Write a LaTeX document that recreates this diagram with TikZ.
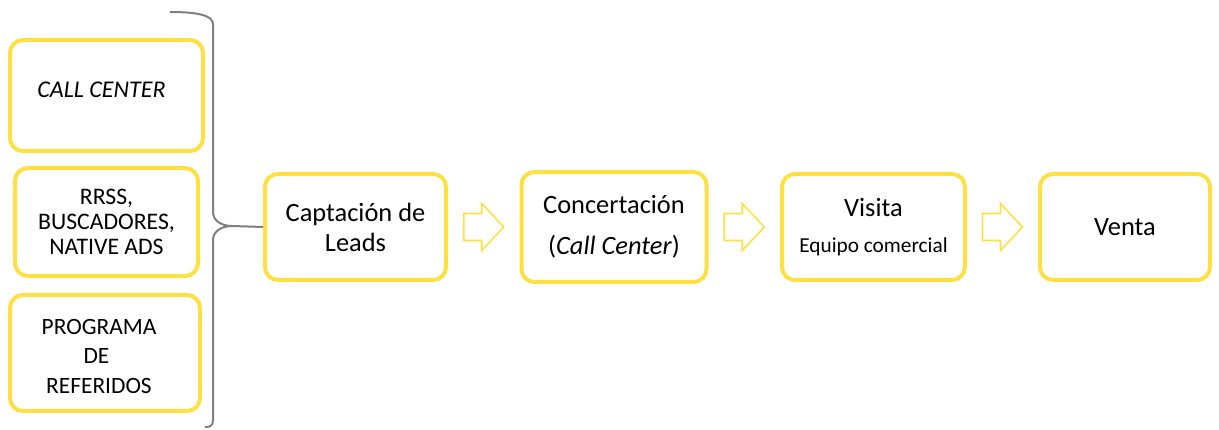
\documentclass[tikz,border=0pt]{standalone}
\usepackage{fontspec}
\setmainfont{Carlito}
\usetikzlibrary{calc}
\definecolor{boxyellow}{HTML}{FFE043}
\definecolor{bracegray}{HTML}{808080}
\tikzset{
  ybox/.style={draw=boxyellow, line width=4pt, rounded corners=13pt, inner sep=0pt, align=center, fill=white},
  bigtxt/.style={font=\fontsize{26.4}{30}\selectfont},
  flowarrow/.style={draw=boxyellow, line width=1.6pt, line join=miter},
}
\begin{document}
\begin{tikzpicture}[x=1pt,y=-1pt]
\useasboundingbox (0,0) rectangle (1219,430);
% left sources
\node[ybox, minimum width=193pt, minimum height=111pt, font=\fontsize{24}{28}\selectfont\itshape] (cc) at (106.5,95.5) {\raisebox{6pt}[\height][\depth]{CALL CENTER}\hspace*{10pt}};
\node[ybox, minimum width=183pt, minimum height=108pt, font=\fontsize{23.7}{25}\selectfont] (rr) at (106.5,222) {RRSS,\\BUSCADORES,\\NATIVE ADS};
\node[ybox, minimum width=190pt, minimum height=116pt, font=\fontsize{23.4}{29.5}\selectfont] (pg) at (105,353) {\raisebox{-5pt}[\height][\depth]{\begin{tabular}{@{}c@{}}PROGRAMA\\DE\hspace*{5pt}\\REFERIDOS\end{tabular}}\hspace*{12pt}};
% main flow
\node[ybox, bigtxt, minimum width=181pt, minimum height=106pt] (cap) at (355.5,227) {Captación de\\Leads};
\node[ybox, bigtxt, minimum width=185pt, minimum height=110pt] (con) at (614,227) {Concertación\\[11pt](\textit{Call Center})};
\node[ybox, bigtxt, minimum width=183pt, minimum height=106pt] (vis) at (873.5,227) {Visita\\[6pt]{\fontsize{21.3}{24}\selectfont Equipo comercial}};
\node[ybox, bigtxt, minimum width=170pt, minimum height=106pt] (ven) at (1125,227) {Venta};
% brace
\coordinate (tip) at (232,226);
\draw[bracegray, line width=2pt]
  (170,12) .. controls (196,12) and (213,15) .. (213,24)
  -- (213,212) .. controls (213,221) and (222,226) .. (tip)
  .. controls (222,226) and (213,231) .. (213,240)
  -- (213,420) .. controls (213,426) and (210,427) .. (205,427);
\draw[bracegray, line width=2pt] (tip) -- (cap.west);
% block arrows
\foreach \a/\b in {cap/con, con/vis, vis/ven}{
  \path ($(\a.east)!0.5!(\b.west)$) coordinate (m);
  \draw[flowarrow] ([xshift=-20pt,yshift=-13.5pt]m) -- ([xshift=-2pt,yshift=-13.5pt]m)
    -- ([xshift=-2pt,yshift=-23.5pt]m) -- ([xshift=20pt]m) -- ([xshift=-2pt,yshift=23.5pt]m)
    -- ([xshift=-2pt,yshift=13.5pt]m) -- ([xshift=-20pt,yshift=13.5pt]m) -- cycle;
}
\end{tikzpicture}
\end{document}
